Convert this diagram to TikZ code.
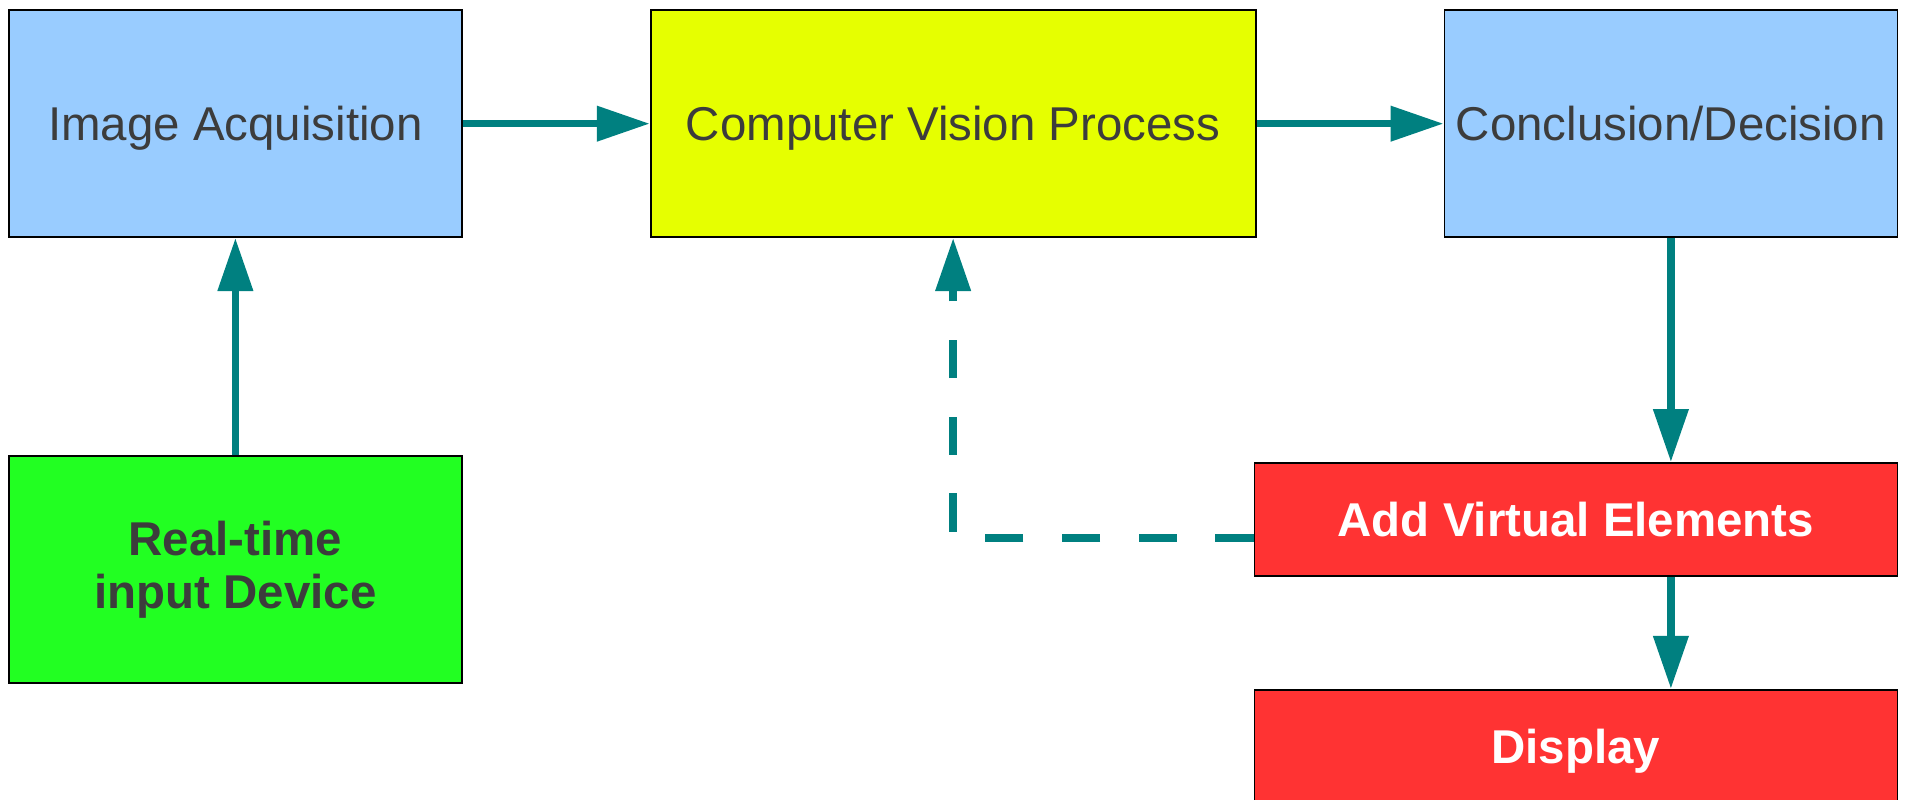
\documentclass[tikz,border=0pt]{standalone}
\usepackage{fontspec}
\setmainfont{Liberation Sans}
\usepackage{tikz}
\usetikzlibrary{positioning, arrows.meta}
\usepackage{xcolor}
\definecolor{boxblue}{RGB}{153,204,255}
\definecolor{boxyellow}{RGB}{230,255,0}
\definecolor{boxgreen}{RGB}{34,255,34}
\definecolor{boxred}{RGB}{255,51,51}
\definecolor{flowteal}{RGB}{0,128,128}
\definecolor{txtgray}{RGB}{60,60,60}

\begin{document}
\begin{tikzpicture}[
        node distance = 2.17cm and 1.87cm,
        blk/.style    = {draw=black, line width=0.5pt, rectangle, inner sep=0pt, align=center, text=txtgray, font=\fontsize{13.5}{15}\selectfont},
        oneline/.style = {blk, text height=0.34cm, text depth=0pt},
        acqbox/.style = {oneline, fill=boxblue, minimum width=4.53cm, minimum height=2.27cm},
        procbox/.style = {oneline, fill=boxyellow, minimum width=6.05cm, minimum height=2.27cm},
        devbox/.style = {blk, fill=boxgreen, minimum width=4.53cm, minimum height=2.27cm, font=\fontsize{13.5}{15}\selectfont\bfseries},
        outbox/.style = {oneline, fill=boxred, minimum width=6.43cm, minimum height=1.13cm, text=white, font=\fontsize{13.5}{15}\selectfont\bfseries},
        arrow/.style  = {-{Triangle[length=5.3mm, width=3.4mm]}, line width=2.1pt, draw=flowteal},
        backarrow/.style = {arrow, dash pattern=on 3.83mm off 3.84mm},
    ]
        \useasboundingbox (0,0) rectangle (19.07,-8.00);

        %---- top row ----
        \node[acqbox, anchor=north west] (imgacq) at (0.08,-0.093) {Image Acquisition};
        \node[procbox, right=of imgacq] (cvproc) {Computer Vision Process};
        \node[acqbox, right=of cvproc] (decide) {Conclusion/Decision};

        %---- input device ----
        \node[devbox, below=of imgacq] (device) {Real-time\\input Device};

        %---- output side ----
        \node[outbox, below=2.24cm of decide.south east, anchor=north east] (virtual) {Add Virtual Elements};
        \node[outbox, below=1.12cm of virtual] (display) {Display};

        %---- connectors ----
        \draw[arrow] (device) -- (imgacq);
        \draw[arrow] (imgacq) -- (cvproc);
        \draw[arrow] (cvproc) -- (decide);
        \draw[arrow] (decide) -- (decide |- virtual.north);
        \draw[arrow] (virtual.south -| decide) -- (display.north -| decide);
        \draw[backarrow] ([yshift=-1.85mm]virtual.west) -| (cvproc);
    \end{tikzpicture}
\end{document}
